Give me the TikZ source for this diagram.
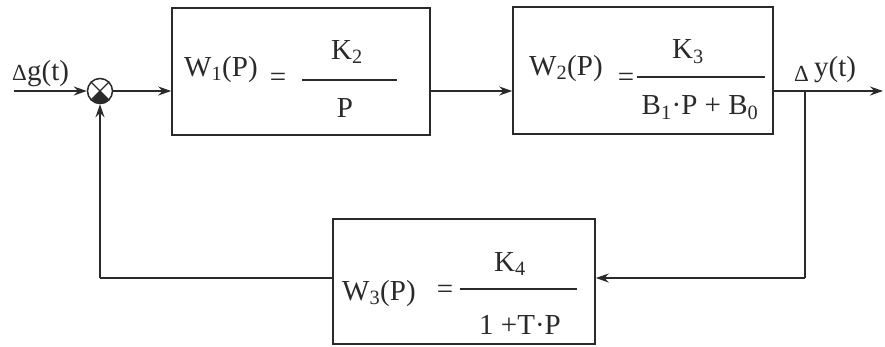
\documentclass[tikz,border=0pt]{standalone}
\usepackage{fontspec}
\setmainfont{Liberation Serif}
\usetikzlibrary{arrows.meta}
\definecolor{ink}{HTML}{2A2A2A}
\tikzset{
  blk/.style={draw=ink, line width=1.6pt},
  wire/.style={draw=ink, line width=1.5pt},
  arr/.style={wire, -{Stealth[length=13pt,width=9pt]}},
  txt/.style={text=ink, inner sep=0pt, font=\fontsize{29}{32}\selectfont},
  dlt/.style={text=ink, inner sep=0pt, font=\fontsize{23}{26}\selectfont},
  bar/.style={draw=ink, line width=1.4pt},
}
\begin{document}
\begin{tikzpicture}[x=1pt,y=-1pt]
\useasboundingbox (0,0) rectangle (885,346);
% blocks
\node[blk, minimum width=258pt, minimum height=127pt, inner sep=0pt] (b1) at (301,71.5) {};
\node[blk, minimum width=260pt, minimum height=127pt, inner sep=0pt] (b2) at (643,70.5) {};
\node[blk, minimum width=262pt, minimum height=125pt, inner sep=0pt] (b3) at (464,281.5) {};
% summing junction
\node[draw=ink, line width=1.5pt, circle, minimum size=25pt, inner sep=0pt] (sum) at (100,91) {};
\fill[ink] (sum.center) -- (sum.-45) arc[start angle=-45, end angle=-135, radius=12.5pt] -- cycle;
\draw[ink, line width=1.3pt] (sum.45) -- (sum.-135) (sum.135) -- (sum.-45);
% coordinates
\coordinate (in) at (14,91);
\coordinate (out) at (883,91);
\coordinate (br) at (805,91);
\coordinate (brd) at (805,278);
\coordinate (fbl) at (100,278);
% connectors
\draw[arr] (in) -- (sum.west);
\draw[arr] (sum.east) -- (b1.west |- sum.east);
\draw[arr] (b1.east |- sum.east) -- (b2.west |- sum.east);
\draw[arr] (b2.east |- out) -- (out);
\draw[wire] (br) -- (brd);
\draw[arr] (brd) -- (b3.east |- brd);
\draw[wire] (b3.west |- brd) -- (fbl);
\draw[arr] (fbl) -- (sum.south);
% signal labels
\node[txt, anchor=base west] (lg) at (27,80) {g(t)};
\node[dlt, anchor=base east] (dg) at (27,80) {Δ};
\node[txt, anchor=base west] (ly) at (814,76) {y(t)};
\node[dlt, anchor=base east] (dy) at (809,81) {Δ};
% block 1 text
\node[txt, anchor=base west] (w1) at (184,76) {W\textsubscript{1}(P)};
\node[txt] (e1) at (278,80) {=};
\draw[bar] (302,80) -- (397,80);
\node[txt] (n1) at (347,52) {K\textsubscript{2}};
\node[txt] (d1) at (345,108) {P};
% block 2 text
\node[txt, anchor=base west] (w2) at (529,75) {W\textsubscript{2}(P)};
\node[txt] (e2) at (626,80) {=};
\draw[bar] (637,77) -- (765,77);
\node[txt] (n2) at (688,52) {K\textsubscript{3}};
\node[txt] (d2) at (700,108) {B\textsubscript{1}·P + B\textsubscript{0}};
% block 3 text
\node[txt, anchor=base west] (w3) at (342,300) {W\textsubscript{3}(P)};
\node[txt] (e3) at (445,292) {=};
\draw[bar] (460,289) -- (577,289);
\node[txt] (n3) at (510,264) {K\textsubscript{4}};
\node[txt] (d3) at (520,325) {1 +T·P};
\end{tikzpicture}
\end{document}
